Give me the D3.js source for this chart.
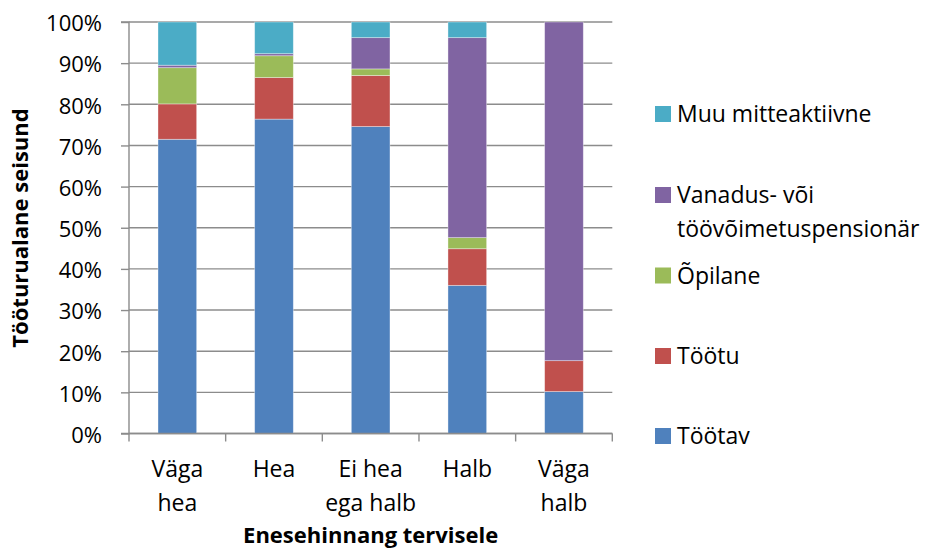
<!DOCTYPE html>
<html>
<head>
<meta charset="utf-8">
<script src="https://cdn.jsdelivr.net/npm/d3@7"></script>
<style>
  html, body { margin: 0; padding: 0; background: #fff; }
  svg { display: block; }
  text { font-family: "Open Sans", sans-serif; fill: #000; }
</style>
</head>
<body>
<svg id="chart" width="925" height="554"></svg>
<script>
// Health self-assessment categories (x axis)
const categories = [["Väga", "hea"], ["Hea"], ["Ei hea", "ega halb"], ["Halb"], ["Väga", "halb"]];
const categoryKeys = ["Väga hea", "Hea", "Ei hea ega halb", "Halb", "Väga halb"];

// Labour-market status shares (%) per category, bottom to top
const tootav      = [71.5, 76.4, 74.6, 36.0, 10.2];
const tootu       = [8.6, 10.1, 12.4, 8.9, 7.5];
const opilane     = [8.8, 5.3, 1.6, 2.7, 0.0];
const pensionar   = [0.6, 0.5, 7.6, 48.6, 82.3];
const muu         = [10.5, 7.7, 3.8, 3.8, 0.0];

const seriesNames = ["Töötav", "Töötu", "Õpilane", "Vanadus- või töövõimetuspensionär", "Muu mitteaktiivne"];
const seriesValues = [tootav, tootu, opilane, pensionar, muu];
const colors = ["#4F81BD", "#C0504D", "#9BBB59", "#8064A2", "#4BACC6"];
const yTicks = [0, 10, 20, 30, 40, 50, 60, 70, 80, 90, 100];

const svg = d3.select("#chart");
const plot = { left: 129, right: 612.3, top: 22, bottom: 433.5 };

const x = d3.scaleBand().domain(categoryKeys).range([plot.left, plot.right]).paddingInner(0.6).paddingOuter(0.3);
const xBand = d3.scaleBand().domain(categoryKeys).range([plot.left, plot.right]);
const y = d3.scaleLinear().domain([0, 100]).range([plot.bottom, plot.top]);

// horizontal gridlines
svg.append("g")
  .selectAll("line")
  .data(yTicks)
  .join("line")
  .attr("x1", plot.left).attr("x2", plot.right)
  .attr("y1", d => y(d)).attr("y2", d => y(d))
  .attr("stroke", "#8c8c8c").attr("stroke-width", 1.4);

// stacked bars
const rows = categoryKeys.map((k, i) => {
  const r = { key: k };
  seriesNames.forEach((s, j) => r[s] = seriesValues[j][i]);
  return r;
});
const stacked = d3.stack().keys(seriesNames)(rows);

svg.append("g")
  .selectAll("g")
  .data(stacked)
  .join("g")
  .attr("fill", (d, i) => colors[i])
  .selectAll("rect")
  .data(d => d.filter(p => p[1] - p[0] > 0))
  .join("rect")
  .attr("x", d => x(d.data.key))
  .attr("width", x.bandwidth())
  .attr("y", d => y(d[1]))
  .attr("height", d => y(d[0]) - y(d[1]))
  .attr("stroke", "rgba(255,255,255,0.45)")
  .attr("stroke-width", 0.8);

// y axis
const yAxis = d3.axisLeft(y).tickValues(yTicks).tickFormat(d => d + "%").tickSize(8).tickPadding(19);
const gy = svg.append("g").attr("transform", `translate(${plot.left},0)`).call(yAxis);
gy.select(".domain").attr("stroke", "#8c8c8c").attr("stroke-width", 1.4).attr("d", `M-8,${plot.top}H0V${plot.bottom}H-8`);
gy.selectAll(".tick line").attr("stroke", "#8c8c8c").attr("stroke-width", 1.4);
gy.selectAll(".tick text").attr("font-family", "'Open Sans', sans-serif").attr("font-size", 22)
  .attr("fill", "#000").attr("dy", "0.4em");

// x axis: ticks at band boundaries
const gx = svg.append("g");
gx.append("line").attr("x1", plot.left).attr("x2", plot.right)
  .attr("y1", plot.bottom).attr("y2", plot.bottom)
  .attr("stroke", "#8c8c8c").attr("stroke-width", 1.4);
const boundaries = categoryKeys.map(k => xBand(k)).concat([plot.right]);
gx.selectAll("line.tk").data(boundaries).join("line").attr("class", "tk")
  .attr("x1", d => d).attr("x2", d => d)
  .attr("y1", plot.bottom).attr("y2", plot.bottom + 8)
  .attr("stroke", "#8c8c8c").attr("stroke-width", 1.4);

const xl = gx.selectAll("text.cat").data(categoryKeys).join("text").attr("class", "cat")
  .attr("text-anchor", "middle")
  .attr("font-size", 23)
  .attr("x", d => xBand(d) + xBand.bandwidth() / 2)
  .attr("y", 477);
xl.selectAll("tspan").data((d, i) => categories[i]).join("tspan")
  .attr("x", function () { return this.parentNode.getAttribute("x"); })
  .attr("dy", (d, i) => i === 0 ? 0 : 33.5)
  .text(d => d);

// axis titles
svg.append("text").attr("x", (plot.left + plot.right) / 2).attr("y", 543)
  .attr("text-anchor", "middle").attr("font-size", 22).attr("font-weight", "bold")
  .text("Enesehinnang tervisele");
svg.append("text").attr("transform", `translate(28,228) rotate(-90)`)
  .attr("text-anchor", "middle").attr("font-size", 22).attr("font-weight", "bold")
  .text("Tööturualane seisund");

// legend (top entry is last series)
const legendItems = [
  { i: 4, y: 114, lines: ["Muu mitteaktiivne"] },
  { i: 3, y: 195, lines: ["Vanadus- või", "töövõimetuspensionär"] },
  { i: 2, y: 275.5, lines: ["Õpilane"] },
  { i: 1, y: 356, lines: ["Töötu"] },
  { i: 0, y: 436, lines: ["Töötav"] }
];
const lg = svg.append("g").selectAll("g").data(legendItems).join("g");
lg.append("rect").attr("x", 655).attr("y", d => d.y - 8).attr("width", 16).attr("height", 16)
  .attr("fill", d => colors[d.i]);
const lt = lg.append("text").attr("x", 677).attr("y", d => d.y + 8).attr("font-size", 23);
lt.selectAll("tspan").data(d => d.lines).join("tspan")
  .attr("x", 677).attr("dy", (d, i) => i === 0 ? 0 : 34).text(d => d);
</script>
</body>
</html>
